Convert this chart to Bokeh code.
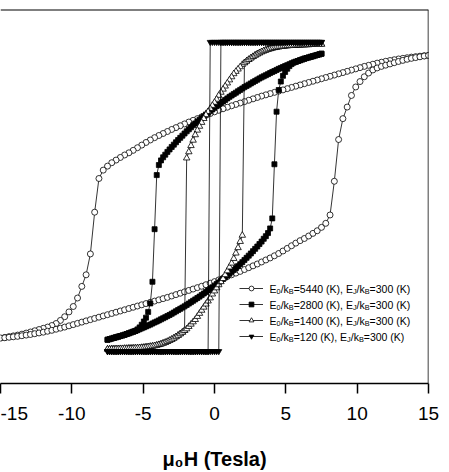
from bokeh.plotting import figure
from bokeh.models import Range1d, FixedTicker, Legend, LegendItem, ColumnDataSource, Span
from bokeh.core.properties import value, field
from bokeh.embed import file_html
from bokeh.resources import INLINE

# Applied field sweeps (Tesla)
FIELD_WIDE = [
    -15.0, -14.7, -14.4, -14.1, -13.8, -13.5, -13.2, -12.9, -12.6, -12.3,
    -12.0, -11.7, -11.4, -11.1, -10.8, -10.5, -10.2, -9.9, -9.6, -9.3,
    -9.0, -8.7, -8.4, -8.1, -7.8, -7.5, -7.2, -6.9, -6.6, -6.3,
    -6.0, -5.7, -5.4, -5.1, -4.8, -4.5, -4.2, -3.9, -3.6, -3.3,
    -3.0, -2.7, -2.4, -2.1, -1.8, -1.5, -1.2, -0.9, -0.6, -0.3,
    0.0,
    0.3, 0.6, 0.9, 1.2, 1.5, 1.8, 2.1, 2.4, 2.7, 3.0,
    3.3, 3.6, 3.9, 4.2, 4.5, 4.8, 5.1, 5.4, 5.7, 6.0,
    6.3, 6.6, 6.9, 7.2, 7.5, 7.8, 8.1, 8.4, 8.7, 9.0,
    9.3, 9.6, 9.9, 10.2, 10.5, 10.8, 11.1, 11.4, 11.7, 12.0,
    12.3, 12.6, 12.9, 13.2, 13.5, 13.8, 14.1, 14.4, 14.7, 15.0,
]
FIELD_NARROW = [
    -7.5, -7.35, -7.2, -7.05, -6.9, -6.75, -6.6, -6.45, -6.3, -6.15,
    -6.0, -5.85, -5.7, -5.55, -5.4, -5.25, -5.1, -4.95, -4.8, -4.65,
    -4.5, -4.35, -4.2, -4.05, -3.9, -3.75, -3.6, -3.45, -3.3, -3.15,
    -3.0, -2.85, -2.7, -2.55, -2.4, -2.25, -2.1, -1.95, -1.8, -1.65,
    -1.5, -1.35, -1.2, -1.05, -0.9, -0.75, -0.6, -0.45, -0.3, -0.15,
    0.0,
    0.15, 0.3, 0.45, 0.6, 0.75, 0.9, 1.05, 1.2, 1.35, 1.5,
    1.65, 1.8, 1.95, 2.1, 2.25, 2.4, 2.55, 2.7, 2.85, 3.0,
    3.15, 3.3, 3.45, 3.6, 3.75, 3.9, 4.05, 4.2, 4.35, 4.5,
    4.65, 4.8, 4.95, 5.1, 5.25, 5.4, 5.55, 5.7, 5.85, 6.0,
    6.15, 6.3, 6.45, 6.6, 6.75, 6.9, 7.05, 7.2, 7.35, 7.5,
]

# Reduced magnetisation, decreasing-field (DOWN) and increasing-field (UP) branches,
# listed in the order of the field sweep arrays above.
M_5440_DOWN = [
    -0.914, -0.91, -0.905, -0.90, -0.895, -0.889, -0.882, -0.875, -0.867, -0.859,
    -0.851, -0.843, -0.833, -0.82, -0.80, -0.776, -0.745, -0.71, -0.655, -0.58,
    -0.505, -0.37, -0.10, 0.118, 0.172, 0.198, 0.22, 0.237, 0.254, 0.27,
    0.284, 0.30, 0.317, 0.334, 0.351, 0.367, 0.382, 0.396, 0.409, 0.422,
    0.435, 0.447, 0.459, 0.471, 0.483, 0.494, 0.505, 0.516, 0.527, 0.538,
    0.549,
    0.559, 0.569, 0.579, 0.588, 0.597, 0.606, 0.615, 0.624, 0.633, 0.642,
    0.651, 0.659, 0.667, 0.675, 0.683, 0.691, 0.699, 0.707, 0.715, 0.723,
    0.731, 0.739, 0.747, 0.755, 0.763, 0.771, 0.779, 0.787, 0.795, 0.803,
    0.811, 0.819, 0.827, 0.835, 0.843, 0.85, 0.857, 0.864, 0.87, 0.876,
    0.881, 0.886, 0.891, 0.895, 0.899, 0.903, 0.906, 0.909, 0.912, 0.914,
]
M_5440_UP = [
    -0.914, -0.912, -0.909, -0.906, -0.903, -0.899, -0.895, -0.891, -0.886, -0.881,
    -0.876, -0.87, -0.864, -0.857, -0.85, -0.843, -0.835, -0.827, -0.819, -0.811,
    -0.803, -0.795, -0.787, -0.779, -0.771, -0.763, -0.755, -0.747, -0.739, -0.731,
    -0.723, -0.715, -0.707, -0.699, -0.691, -0.683, -0.675, -0.667, -0.659, -0.651,
    -0.642, -0.633, -0.624, -0.615, -0.606, -0.597, -0.588, -0.579, -0.569, -0.559,
    -0.549,
    -0.538, -0.527, -0.516, -0.505, -0.494, -0.483, -0.471, -0.459, -0.447, -0.435,
    -0.422, -0.409, -0.396, -0.382, -0.367, -0.351, -0.334, -0.317, -0.30, -0.284,
    -0.27, -0.254, -0.237, -0.22, -0.198, -0.172, -0.118, 0.10, 0.37, 0.505,
    0.58, 0.655, 0.71, 0.745, 0.776, 0.80, 0.82, 0.833, 0.843, 0.851,
    0.859, 0.867, 0.875, 0.882, 0.889, 0.895, 0.90, 0.905, 0.91, 0.914,
]
M_2800_DOWN = [
    -0.925, -0.921, -0.917, -0.913, -0.909, -0.905, -0.901, -0.897, -0.893, -0.888,
    -0.883, -0.878, -0.873, -0.868, -0.858, -0.845, -0.828, -0.807, -0.782, -0.745,
    -0.69, -0.55, -0.21, 0.14, 0.205, 0.235, 0.255, 0.272, 0.29, 0.306,
    0.322, 0.337, 0.352, 0.367, 0.381, 0.395, 0.409, 0.423, 0.436, 0.449,
    0.462, 0.474, 0.486, 0.498, 0.51, 0.521, 0.532, 0.543, 0.554, 0.565,
    0.575,
    0.586, 0.596, 0.606, 0.616, 0.626, 0.636, 0.646, 0.655, 0.664, 0.673,
    0.682, 0.691, 0.70, 0.709, 0.717, 0.725, 0.733, 0.741, 0.749, 0.757,
    0.765, 0.772, 0.779, 0.786, 0.793, 0.80, 0.807, 0.813, 0.82, 0.827,
    0.833, 0.839, 0.845, 0.851, 0.857, 0.863, 0.868, 0.873, 0.878, 0.883,
    0.888, 0.893, 0.897, 0.901, 0.905, 0.909, 0.913, 0.917, 0.921, 0.925,
]
M_2800_UP = [
    -0.925, -0.921, -0.917, -0.913, -0.909, -0.905, -0.901, -0.897, -0.893, -0.888,
    -0.883, -0.878, -0.873, -0.868, -0.863, -0.857, -0.851, -0.845, -0.839, -0.833,
    -0.827, -0.82, -0.813, -0.807, -0.80, -0.793, -0.786, -0.779, -0.772, -0.765,
    -0.757, -0.749, -0.741, -0.733, -0.725, -0.717, -0.709, -0.70, -0.691, -0.682,
    -0.673, -0.664, -0.655, -0.646, -0.636, -0.626, -0.616, -0.606, -0.596, -0.586,
    -0.575,
    -0.565, -0.554, -0.543, -0.532, -0.521, -0.51, -0.498, -0.486, -0.474, -0.462,
    -0.449, -0.436, -0.423, -0.409, -0.395, -0.381, -0.367, -0.352, -0.337, -0.322,
    -0.306, -0.29, -0.272, -0.255, -0.235, -0.205, -0.14, 0.21, 0.55, 0.69,
    0.745, 0.782, 0.807, 0.828, 0.845, 0.858, 0.868, 0.873, 0.878, 0.883,
    0.888, 0.893, 0.897, 0.901, 0.905, 0.909, 0.913, 0.917, 0.921, 0.925,
]
M_1400_DOWN = [
    -0.986, -0.986, -0.985, -0.985, -0.984, -0.984, -0.983, -0.983, -0.982, -0.982,
    -0.981, -0.981, -0.98, -0.979, -0.978, -0.977, -0.976, -0.975, -0.973, -0.971,
    -0.969, -0.967, -0.964, -0.961, -0.957, -0.953, -0.948, -0.943, -0.937, -0.93,
    -0.923, -0.915, -0.906, -0.897, -0.887, -0.877, -0.866, 0.25, 0.29, 0.33,
    0.365, 0.40, 0.43, 0.455, 0.48, 0.505, 0.53, 0.55, 0.57, 0.59,
    0.61,
    0.63, 0.655, 0.675, 0.695, 0.715, 0.735, 0.755, 0.775, 0.795, 0.81,
    0.825, 0.84, 0.855, 0.866, 0.877, 0.887, 0.897, 0.906, 0.915, 0.923,
    0.93, 0.937, 0.943, 0.948, 0.953, 0.957, 0.961, 0.964, 0.967, 0.969,
    0.971, 0.973, 0.975, 0.976, 0.977, 0.978, 0.979, 0.98, 0.981, 0.981,
    0.982, 0.982, 0.983, 0.983, 0.984, 0.984, 0.985, 0.985, 0.986, 0.986,
]
M_1400_UP = [
    -0.986, -0.986, -0.985, -0.985, -0.984, -0.984, -0.983, -0.983, -0.982, -0.982,
    -0.981, -0.981, -0.98, -0.979, -0.978, -0.977, -0.976, -0.975, -0.973, -0.971,
    -0.969, -0.967, -0.964, -0.961, -0.957, -0.953, -0.948, -0.943, -0.937, -0.93,
    -0.923, -0.915, -0.906, -0.897, -0.887, -0.877, -0.866, -0.855, -0.84, -0.825,
    -0.81, -0.795, -0.775, -0.755, -0.735, -0.715, -0.695, -0.675, -0.655, -0.63,
    -0.61,
    -0.59, -0.57, -0.55, -0.53, -0.505, -0.48, -0.455, -0.43, -0.40, -0.365,
    -0.33, -0.29, -0.25, 0.866, 0.877, 0.887, 0.897, 0.906, 0.915, 0.923,
    0.93, 0.937, 0.943, 0.948, 0.953, 0.957, 0.961, 0.964, 0.967, 0.969,
    0.971, 0.973, 0.975, 0.976, 0.977, 0.978, 0.979, 0.98, 0.981, 0.981,
    0.982, 0.982, 0.983, 0.983, 0.984, 0.984, 0.985, 0.985, 0.986, 0.986,
]
M_120_DOWN = [
    -1.0, -1.0, -1.0, -1.0, -1.0, -1.0, -1.0, -1.0, -1.0, -1.0,
    -1.0, -1.0, -1.0, -1.0, -1.0, -1.0, -1.0, -1.0, -1.0, -1.0,
    -1.0, -1.0, -1.0, -1.0, -1.0, -1.0, -1.0, -1.0, -1.0, -1.0,
    -1.0, -1.0, -1.0, -1.0, -1.0, -1.0, -1.0, -1.0, -1.0, -1.0,
    -1.0, -1.0, -1.0, -1.0, -1.0, -1.0, -1.0, -1.0, 1.0, 1.0,
    1.0,
    1.0, 1.0, 1.0, 1.0, 1.0, 1.0, 1.0, 1.0, 1.0, 1.0,
    1.0, 1.0, 1.0, 1.0, 1.0, 1.0, 1.0, 1.0, 1.0, 1.0,
    1.0, 1.0, 1.0, 1.0, 1.0, 1.0, 1.0, 1.0, 1.0, 1.0,
    1.0, 1.0, 1.0, 1.0, 1.0, 1.0, 1.0, 1.0, 1.0, 1.0,
    1.0, 1.0, 1.0, 1.0, 1.0, 1.0, 1.0, 1.0, 1.0, 1.0,
]
M_120_UP = [
    -1.0, -1.0, -1.0, -1.0, -1.0, -1.0, -1.0, -1.0, -1.0, -1.0,
    -1.0, -1.0, -1.0, -1.0, -1.0, -1.0, -1.0, -1.0, -1.0, -1.0,
    -1.0, -1.0, -1.0, -1.0, -1.0, -1.0, -1.0, -1.0, -1.0, -1.0,
    -1.0, -1.0, -1.0, -1.0, -1.0, -1.0, -1.0, -1.0, -1.0, -1.0,
    -1.0, -1.0, -1.0, -1.0, -1.0, -1.0, -1.0, -1.0, -1.0, -1.0,
    -1.0,
    -1.0, -1.0, 1.0, 1.0, 1.0, 1.0, 1.0, 1.0, 1.0, 1.0,
    1.0, 1.0, 1.0, 1.0, 1.0, 1.0, 1.0, 1.0, 1.0, 1.0,
    1.0, 1.0, 1.0, 1.0, 1.0, 1.0, 1.0, 1.0, 1.0, 1.0,
    1.0, 1.0, 1.0, 1.0, 1.0, 1.0, 1.0, 1.0, 1.0, 1.0,
    1.0, 1.0, 1.0, 1.0, 1.0, 1.0, 1.0, 1.0, 1.0, 1.0,
]

E0_LEVELS = [5440, 2800, 1400, 120]   # E0/kB in K
EJ_LEVEL = 300                         # EJ/kB in K

TICKS = [-15, -10, -5, 0, 5, 10, 15]
TICK_LABELS = ["-15", "-10", "-5", "0", "5", "10", "15"]

FONT = "Liberation Sans"
X_MIN, X_MAX = -15, 15
Y_MIN, Y_MAX = -1.208, 1.211

p = figure(
    width=449, height=472,
    x_range=Range1d(X_MIN, X_MAX), y_range=Range1d(Y_MIN, Y_MAX),
    output_backend="svg", toolbar_location=None, y_axis_location=None,
    min_border_left=0, min_border_right=21, min_border_top=9, min_border_bottom=88,
    background_fill_color="white", border_fill_color="white",
)
p.xgrid.visible = False
p.ygrid.visible = False
p.outline_line_color = None

# top and right frame edges (the left edge lies outside the view)
p.add_layout(Span(location=X_MAX, dimension="height", line_color="black", line_width=1.5))
p.add_layout(Span(location=Y_MAX, dimension="width", line_color="black", line_width=2))

ax = p.xaxis[0]
ax.ticker = FixedTicker(ticks=TICKS, minor_ticks=[])
ax.major_label_overrides = {t: s for t, s in zip(TICKS, TICK_LABELS)}
ax.axis_line_color = "black"
ax.axis_line_width = 1.5
ax.major_tick_line_color = "black"
ax.major_tick_line_width = 1.5
ax.major_tick_in = 0
ax.major_tick_out = 10
ax.minor_tick_in = 0
ax.minor_tick_out = 0
ax.major_label_text_font = FONT
ax.major_label_text_font_size = "19px"
ax.major_label_text_color = "black"
ax.major_label_standoff = 13
ax.axis_label = "\u03bc\u2080H (Tesla)"
ax.axis_label_text_font = FONT
ax.axis_label_text_font_size = "20px"
ax.axis_label_text_font_style = "bold"
ax.axis_label_text_color = "black"
ax.axis_label_standoff = 25

# one hysteresis loop per anisotropy barrier
styles = [
    (FIELD_WIDE, M_5440_DOWN, M_5440_UP, "circle", "white", 6),
    (FIELD_NARROW, M_2800_DOWN, M_2800_UP, "square", "black", 5),
    (FIELD_NARROW, M_1400_DOWN, M_1400_UP, "triangle", "white", 6.5),
    (FIELD_NARROW, M_120_DOWN, M_120_UP, "inverted_triangle", "black", 6),
]
items = []
for h, down, up, marker, fill, size in styles:
    src = ColumnDataSource(dict(
        h=list(reversed(h)) + list(h),
        m=list(reversed(down)) + list(up),
    ))
    ln = p.line("h", "m", source=src, line_color="black", line_width=0.8)
    sc = p.scatter("h", "m", source=src, marker=marker, size=size,
                   fill_color=fill, line_color="black", line_width=0.8)
    items.append(LegendItem(label=value(" "), renderers=[ln, sc]))

legend = Legend(
    items=items, location=(239, 41), orientation="vertical",
    padding=0, margin=0, spacing=4,
    glyph_width=24, glyph_height=12, label_height=12, label_width=0,
    label_standoff=0, label_text_font_size="1px",
    border_line_color=None, background_fill_alpha=0,
)
p.add_layout(legend)

# legend captions with subscripts, composed piece by piece
ADV = {"E": 0.667, "/": 0.278, "k": 0.5, "B": 0.667, "J": 0.5, "=": 0.584,
       " ": 0.278, "(": 0.333, ")": 0.333, "K": 0.667, ",": 0.278}
for d in "0123456789":
    ADV[d] = 0.556

MAIN_PX, SUB_PX = 10.5, 7.3
TEXT_H = 3.86                                  # caption start, in field units
ROW_M = [-0.595, -0.699, -0.802, -0.905]       # caption rows, in M units

cap = dict(x=[], y=[], t=[], dx=[], dy=[], fs=[])
for e0, row_y in zip(E0_LEVELS, ROW_M):
    parts = [("E", False), ("0", True), ("/k", False), ("B", True),
             (f"={e0} (K), E", False), ("J", True), ("/k", False), ("B", True),
             (f"={EJ_LEVEL} (K)", False)]
    off = 0.0
    for s, sub in parts:
        px = SUB_PX if sub else MAIN_PX
        cap["x"].append(TEXT_H)
        cap["y"].append(row_y)
        cap["t"].append(s)
        cap["dx"].append(off)
        cap["dy"].append(3.0 if sub else 0.0)
        cap["fs"].append(f"{px}px")
        off += sum(ADV[c] for c in s) * px

p.text("x", "y", text="t", x_offset="dx", y_offset="dy",
       source=ColumnDataSource(cap), text_font=value(FONT),
       text_font_size=field("fs"), text_color="black",
       text_baseline="middle", text_align="left")

open("out.html", "w").write(file_html(p, INLINE))
